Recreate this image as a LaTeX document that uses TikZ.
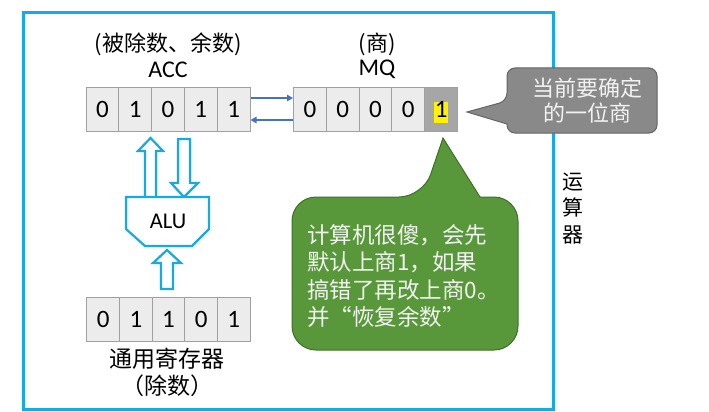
\documentclass[tikz,border=0pt]{standalone}
\usepackage{fontspec}
\setmainfont{Carlito}
\newfontfamily\cjk{Noto Sans CJK SC}
\usetikzlibrary{calc,arrows.meta}
\definecolor{frameblue}{RGB}{20,170,230}
\definecolor{cellfill}{RGB}{236,236,236}
\definecolor{celldraw}{RGB}{160,160,160}
\definecolor{darkcell}{RGB}{166,166,166}
\definecolor{linkblue}{RGB}{68,114,196}
\definecolor{callgray}{RGB}{137,137,137}
\definecolor{callgrayd}{RGB}{100,100,100}
\definecolor{callgreen}{RGB}{88,152,58}
\definecolor{callgreend}{RGB}{62,112,40}
\definecolor{calltext}{RGB}{242,242,242}
\begin{document}
\begin{tikzpicture}[x=1pt,y=-1pt,
  cell/.style={draw=celldraw, fill=cellfill, line width=1pt, minimum width=32.8pt,
    minimum height=44pt, inner sep=0pt, font=\fontsize{25}{29}\selectfont},
  lbl/.style={inner sep=0pt, font=\fontsize{24}{28}\selectfont},
  cjklbl/.style={inner sep=0pt, font=\fontsize{22}{26}\selectfont\cjk},
  blockarrow/.style={draw=frameblue, line width=2.2pt, fill=white, line join=miter},
  link/.style={draw=linkblue, line width=1.3pt, -{Triangle[length=6pt,width=6.5pt]}},
  hlbox/.style={fill=yellow, inner xsep=0.8pt, inner ysep=0pt, text height=15.5pt,
    text depth=6pt, font=\fontsize{25}{29}\selectfont},
  graycall/.style={draw=callgrayd, fill=callgray, line width=1pt},
  greencall/.style={draw=callgreend, fill=callgreen, line width=1pt},
]
\useasboundingbox (0,0) rectangle (709,412);
\fill[white] (0,0) rectangle (709,412);

% outer frame
\draw[frameblue, line width=3pt] (23,13) rectangle (553,409);

% ACC register
\foreach \d [count=\i] in {0,1,0,1,1}
  \node[cell] (a\i) at ({86+32.8*(\i-0.5)},109.5) {\d};
% MQ register
\foreach \d [count=\i] in {0,0,0,0}
  \node[cell] (m\i) at ({293.5+32.8*(\i-0.5)},109.5) {\d};
\node[cell, fill=darkcell] (m5) at ({293.5+32.8*4.5},109.5) {};
\node[hlbox, anchor=base] (hl) at ($(m5.center)+(0,7.9)$) {1};
% general register
\foreach \d [count=\i] in {0,1,1,0,1}
  \node[cell] (r\i) at ({87+32.6*(\i-0.5)},319) {\d};

% labels
\node[cjklbl] (accnote) at (168,44) {(被除数、余数)};
\node[lbl] (acclbl) at (168,69.5) {ACC};
\node[cjklbl] (mqnote) at (377,44) {(商)};
\node[lbl] (mqlbl) at (377,69.5) {MQ};
\node[cjklbl, align=center, font=\fontsize{23}{27}\selectfont\cjk] (regl) at (167,372.5) {通用寄存器\\（除数）};
\node[cjklbl, align=center, font=\fontsize{21}{26.5}\selectfont\cjk] (unit) at (573,208.5) {运\\算\\器};

% links ACC <-> MQ
\draw[link] ($(a5.east)+(0,-11.5)$) -- ($(m1.west)+(0,-11.5)$);
\draw[link] ($(m1.west)+(0,10.5)$) -- ($(a5.east)+(0,10.5)$);

% block arrows
\draw[blockarrow] (145,197) -- (145,151) -- (138,151) -- (150.5,138) -- (163,151) -- (156,151) -- (156,197);
\draw[blockarrow] (178,139) -- (190,139) -- (190,183) -- (198,183) -- (184,197) -- (171,183) -- (178,183) -- cycle;
\draw[blockarrow] (161,289) -- (161,263) -- (153,263) -- (167,250) -- (181,263) -- (173,263) -- (173,289) -- cycle;

% ALU
\draw[blockarrow] (126,197) -- (209,197) -- (209,229) -- (192,246) -- (145,246) -- (126,229) -- cycle;
\node[lbl, font=\fontsize{22.5}{26}\selectfont] (alu) at (168,221) {ALU};

% gray callout
\draw[graycall] (467,112) -- (507,124) [rounded corners=8pt] -- (507,133) -- (657,133)
  -- (657,68) -- (507,68) -- (507,101) [sharp corners] -- cycle;
\node[align=center, text=calltext, inner sep=0pt, font=\fontsize{22}{25}\selectfont\cjk]
  (ctext) at (587,100.5) {当前要确定\\的一位商};

% green callout
\draw[greencall] (443,138) -- (480,197) [rounded corners=24pt] -- (518,197) -- (518,350)
  -- (292,350) -- (292,197) -- (423,197) [sharp corners] -- cycle;
\node[align=left, anchor=west, text=calltext, inner sep=0pt, font=\fontsize{22.5}{27.4}\selectfont\cjk]
  (gtext) at (307,276) {计算机很傻，会先\\默认上商1，如果\\搞错了再改上商0。\\并“恢复余数”};
\end{tikzpicture}
\end{document}
